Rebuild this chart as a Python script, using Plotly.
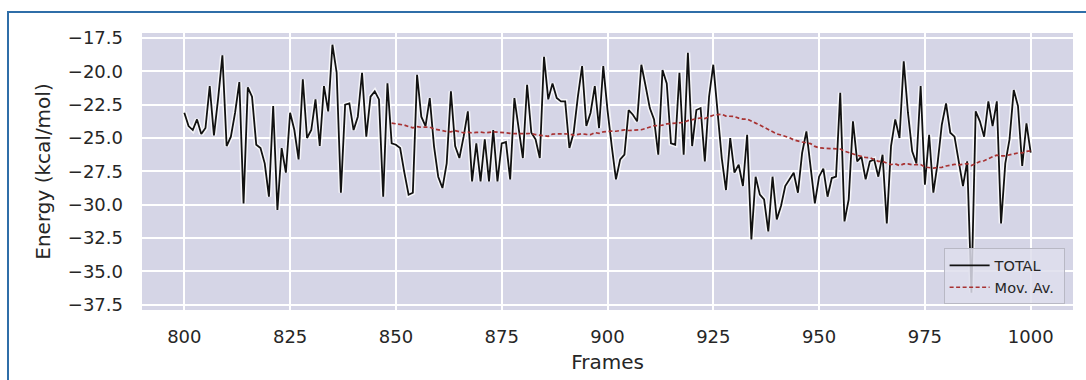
import pandas as pd
import plotly.graph_objects as go

frames = list(range(800, 1001))
total_energy = [
    -23.1, -24.1, -24.4, -23.6, -24.7, -24.25, -21.1, -24.8, -22.0, -18.8,
    -25.6, -24.9, -23.1, -20.8, -29.9, -21.2, -21.9, -25.5, -25.75, -26.9,
    -29.4, -22.6, -30.4, -25.75, -27.6, -23.1, -24.4, -26.6, -20.6, -25.0,
    -24.4, -22.1, -25.6, -21.1, -23.0, -18.0, -20.1, -29.1, -22.5, -22.4,
    -24.4, -23.4, -20.1, -24.9, -21.9, -21.5, -22.1, -29.4, -20.9, -25.4,
    -25.5, -25.75, -27.6, -29.25, -29.1, -20.25, -23.4, -24.1, -22.0, -25.6,
    -27.9, -28.75, -26.9, -21.5, -25.6, -26.5, -24.9, -23.0, -28.25, -25.4,
    -28.25, -25.1, -28.25, -24.4, -28.25, -25.4, -25.3, -28.1, -22.0, -24.4,
    -26.5, -21.0, -24.6, -25.1, -26.5, -18.9, -22.1, -20.9, -22.0, -22.25,
    -22.25, -25.75, -24.6, -21.9, -19.6, -24.1, -23.1, -21.1, -24.25, -19.6,
    -22.9, -25.6, -28.1, -26.6, -26.25, -22.9, -23.25, -23.75, -19.5, -21.1,
    -22.75, -23.6, -26.25, -19.9, -20.9, -25.4, -25.5, -20.1, -26.25, -18.6,
    -25.6, -22.9, -22.75, -26.75, -21.9, -19.5, -23.1, -26.5, -28.9, -25.0,
    -27.6, -27.0, -28.6, -24.75, -32.6, -27.9, -29.25, -29.6, -32.0, -27.9,
    -31.1, -30.1, -28.6, -28.1, -27.6, -29.1, -26.1, -24.5, -27.0, -29.9,
    -27.9, -27.3, -29.4, -28.0, -27.9, -21.6, -31.25, -29.6, -23.75, -26.75,
    -26.4, -28.1, -26.75, -26.6, -27.9, -26.25, -31.4, -25.6, -23.6, -25.0,
    -19.25, -23.1, -26.0, -26.9, -21.1, -28.5, -24.75, -29.1, -26.9, -24.0,
    -22.4, -24.6, -24.9, -26.9, -28.6, -26.75, -36.6, -23.0, -23.75, -24.9,
    -22.25, -24.1, -22.25, -31.4, -26.9, -25.1, -21.4, -22.6, -27.1, -23.9,
    -26.1,
]
window = 50
x_ticks = [800, 825, 850, 875, 900, 925, 950, 975, 1000]
y_ticks = [-37.5, -35.0, -32.5, -30.0, -27.5, -25.0, -22.5, -20.0, -17.5]
y_ticklabels = ["\u221237.5", "\u221235.0", "\u221232.5", "\u221230.0", "\u221227.5",
                "\u221225.0", "\u221222.5", "\u221220.0", "\u221217.5"]

mov_av = pd.Series(total_energy).rolling(window).mean().tolist()

W, H = 1086, 380
L, R, T, B = 142, 13, 33, 70
pw, ph = W - L - R, H - T - B

fig = go.Figure()
# soft white halo under the energy trace
fig.add_trace(go.Scatter(x=frames, y=total_energy, mode="lines",
                         line=dict(color="rgba(255,255,255,0.75)", width=4.8),
                         showlegend=False, hoverinfo="skip"))
fig.add_trace(go.Scatter(x=frames, y=total_energy, mode="lines", name="TOTAL ",
                         line=dict(color="#111111", width=1.8)))
fig.add_trace(go.Scatter(x=frames, y=mov_av, mode="lines", name="Mov. Av. ",
                         line=dict(color="#a83232", width=1.7, dash="4px,2.5px")))

font_family = "DejaVu Sans"
fig.update_layout(
    width=W, height=H,
    margin=dict(l=L, r=R, t=T, b=B),
    paper_bgcolor="white",
    plot_bgcolor="#d5d5e6",
    font=dict(family=font_family, color="#262626"),
    showlegend=True,
    legend=dict(x=0.991, y=0.02, xanchor="right", yanchor="bottom",
                bgcolor="rgba(222,222,236,0.85)", bordercolor="#b8b8c4",
                borderwidth=1, font=dict(size=14.5, color="#262626"),
                tracegroupgap=0, itemwidth=40),
    xaxis=dict(range=[790, 1010], tickvals=x_ticks, ticktext=[str(v) for v in x_ticks],
               showgrid=True, gridcolor="white", gridwidth=1.6, zeroline=False,
               showline=False, ticks="", ticklabelstandoff=14,
               tickfont=dict(size=18, color="#262626"),
               title=dict(text="Frames", font=dict(size=20, color="#262626"), standoff=8)),
    yaxis=dict(range=[-37.9, -17.12], tickvals=y_ticks, ticktext=y_ticklabels,
               showgrid=True, gridcolor="white", gridwidth=1.6, zeroline=False,
               showline=False, ticks="", ticklabelstandoff=18,
               tickfont=dict(size=18, color="#262626"),
               title=dict(text="Energy (kcal/mol)", font=dict(size=20, color="#262626"), standoff=11)),
)

# outer blue frame around the figure
fig.add_shape(type="rect", xref="paper", yref="paper",
              x0=(8 - L) / pw, x1=(W + 10 - L) / pw,
              y0=1 - (H + 10 - T) / ph, y1=1 + (T - 12) / ph,
              line=dict(color="#2f6ea8", width=2), fillcolor="rgba(0,0,0,0)", layer="below")

fig.write_html("out.html")
